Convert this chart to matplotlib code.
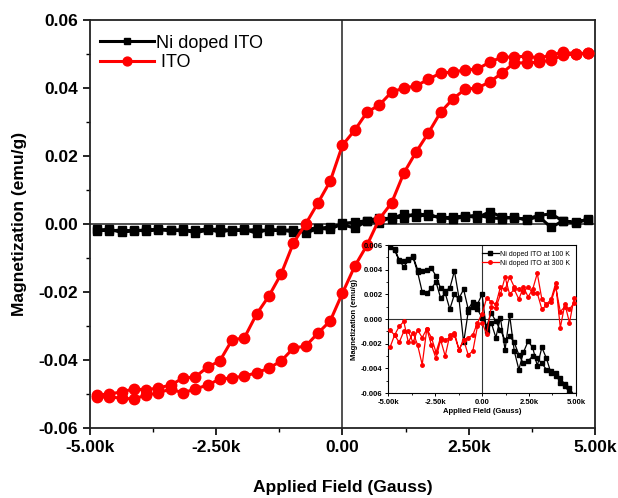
import matplotlib
matplotlib.use("Agg")
import matplotlib.pyplot as plt
from matplotlib.ticker import MultipleLocator

plt.rcParams['font.family'] = ['Liberation Sans', 'DejaVu Sans']

# ---------------- main plot data ----------------
field = [-4860, -4617, -4374, -4131, -3888, -3645, -3402, -3159, -2916, -2673,
         -2430, -2187, -1944, -1701, -1458, -1215, -972, -729, -486, -243,
         0, 243, 486, 729, 972, 1215, 1458, 1701, 1944, 2187,
         2430, 2673, 2916, 3159, 3402, 3645, 3888, 4131, 4374, 4617, 4860]

ito_desc = [-0.0503, -0.0500, -0.0494, -0.0485, -0.0488, -0.0482, -0.0474, -0.0453, -0.0450, -0.0421,
            -0.0403, -0.0341, -0.0335, -0.0265, -0.0212, -0.0147, -0.0056, 0.0000, 0.0062, 0.0126,
            0.0232, 0.0276, 0.0329, 0.0350, 0.0388, 0.0400, 0.0406, 0.0426, 0.0444, 0.0447,
            0.0453, 0.0456, 0.0476, 0.0491, 0.0491, 0.0494, 0.0488, 0.0497, 0.0506, 0.0500, 0.0503]
ito_asc = [-0.0509, -0.0509, -0.0512, -0.0515, -0.0503, -0.0497, -0.0485, -0.0497, -0.0485, -0.0474,
           -0.0456, -0.0453, -0.0447, -0.0438, -0.0424, -0.0403, -0.0365, -0.0359, -0.0321, -0.0285,
           -0.0203, -0.0124, -0.0062, 0.0015, 0.0062, 0.0150, 0.0212, 0.0268, 0.0329, 0.0368,
           0.0397, 0.0400, 0.0418, 0.0444, 0.0474, 0.0474, 0.0476, 0.0482, 0.0497, 0.0500, 0.0503]

ni_desc = [-0.0015, -0.0020, -0.0018, -0.0022, -0.0016, -0.0019, -0.0017, -0.0021, -0.0018, -0.0015,
           -0.0024, -0.0017, -0.0019, -0.0016, -0.0020, -0.0018, -0.0023, -0.0015, -0.0012, -0.0016,
           0.0002, 0.0005, 0.0010, 0.0018, 0.0015, 0.0030, 0.0022, 0.0028, 0.0018, 0.0020,
           0.0024, 0.0019, 0.0036, 0.0021, 0.0017, 0.0015, 0.0025, 0.0030, 0.0008, 0.0005, 0.0013]
ni_asc = [-0.0022, -0.0015, -0.0025, -0.0017, -0.0021, -0.0014, -0.0019, -0.0016, -0.0026, -0.0018,
          -0.0014, -0.0020, -0.0016, -0.0027, -0.0015, -0.0019, -0.0017, -0.0026, -0.0014, -0.0008,
          -0.0002, -0.0012, 0.0009, 0.0003, 0.0022, 0.0017, 0.0032, 0.0024, 0.0020, 0.0014,
          0.0022, 0.0026, 0.0018, 0.0016, 0.0020, 0.0012, 0.0022, -0.0010, 0.0010, 0.0002, 0.0016]

# ---------------- inset data ----------------
field_in = [-4900, -4655, -4410, -4165, -3920, -3675, -3430, -3185, -2940, -2695,
            -2450, -2205, -1960, -1715, -1470, -1225, -980, -735, -490, -245,
            0, 245, 490, 735, 980, 1225, 1470, 1715, 1960, 2205,
            2450, 2695, 2940, 3185, 3430, 3675, 3920, 4165, 4410, 4655, 4900]

k100_a = [0.0059, 0.0057, 0.0048, 0.0042, 0.0048, 0.0051, 0.0040, 0.0039, 0.0040, 0.0041,
          0.0035, 0.0025, 0.0023, 0.0025, 0.0039, 0.0017, 0.0024, 0.0008, 0.0014, 0.0012,
          0.0020, -0.0010, -0.0003, -0.0015, 0.0001, -0.0025, 0.0003, -0.0026, -0.0041, -0.0027,
          -0.0018, -0.0023, -0.0038, -0.0023, -0.0032, -0.0044, -0.0044, -0.0052, -0.0054, -0.0060, -0.0064]
k100_b = [0.0058, 0.0056, 0.0047, 0.0047, 0.0049, 0.0050, 0.0038, 0.0022, 0.0021, 0.0025,
          0.0030, 0.0017, 0.0021, 0.0008, 0.0020, 0.0016, -0.0019, 0.0006, 0.0010, 0.0008,
          0.0001, -0.0006, 0.0005, -0.0002, -0.0009, -0.0017, -0.0014, -0.0019, -0.0029, -0.0036,
          -0.0034, -0.0030, -0.0032, -0.0036, -0.0041, -0.0042, -0.0046, -0.0048, -0.0053, -0.0056, -0.0062]

k300_a = [-0.0009, -0.0013, -0.0006, -0.0002, -0.0019, -0.0011, -0.0021, -0.0037, -0.0008, -0.0021,
          -0.0032, -0.0017, -0.0030, -0.0013, -0.0011, -0.0025, -0.0017, -0.0029, -0.0026, -0.0006,
          -0.0003, -0.0012, 0.0010, 0.0009, 0.0020, 0.0034, 0.0020, 0.0024, 0.0016, 0.0026,
          0.0018, 0.0024, 0.0037, 0.0016, 0.0012, 0.0016, 0.0029, -0.0007, 0.0012, -0.0003, 0.0017]
k300_b = [-0.0023, -0.0013, -0.0019, -0.0010, -0.0010, -0.0019, -0.0009, -0.0015, -0.0008, -0.0015,
          -0.0027, -0.0015, -0.0017, -0.0015, -0.0013, -0.0025, -0.0017, -0.0015, -0.0013, -0.0003,
          0.0004, 0.0017, 0.0014, 0.0012, 0.0026, 0.0024, 0.0034, 0.0026, 0.0024, 0.0022,
          0.0026, 0.0021, 0.0021, 0.0008, 0.0011, 0.0014, 0.0026, 0.0006, 0.0010, 0.0008, 0.0013]

x_ticks = [-5000, -2500, 0, 2500, 5000]
x_ticklabels = ['-5.00k', '-2.50k', '0.00', '2.50k', '5.00k']
y_ticks = [-0.06, -0.04, -0.02, 0.0, 0.02, 0.04, 0.06]
y_ticklabels = ['-0.06', '-0.04', '-0.02', '0.00', '0.02', '0.04', '0.06']
yin_ticks = [-0.006, -0.004, -0.002, 0.0, 0.002, 0.004, 0.006]
yin_ticklabels = ['-0.006', '-0.004', '-0.002', '0.000', '0.002', '0.004', '0.006']

# ---------------- figure ----------------
fig = plt.figure(figsize=(6.18, 4.98), dpi=100)
ax = fig.add_axes([0.1456, 0.1406, 0.8172, 0.8192])

# reference lines
ax.axvline(0, color='#333333', lw=1.2, zorder=1)
ax.axhline(0, color='#333333', lw=1.2, zorder=1)

ni_x = list(reversed(field)) + field
ni_y = list(reversed(ni_desc)) + ni_asc
ito_x = list(reversed(field)) + field
ito_y = list(reversed(ito_desc)) + ito_asc

ax.plot(ni_x, ni_y, color='black', lw=2.2, marker='s', ms=5.5,
        label='Ni doped ITO', zorder=3)
ax.plot(ito_x, ito_y, color='#ff0000', lw=2.2, marker='o', ms=7.5,
        label=' ITO', zorder=4)

ax.set_xlim(-5000, 5000)
ax.set_ylim(-0.06, 0.06)
ax.set_xticks(x_ticks)
ax.set_xticklabels(x_ticklabels)
ax.set_yticks(y_ticks)
ax.set_yticklabels(y_ticklabels)
ax.xaxis.set_minor_locator(MultipleLocator(1250))
ax.yaxis.set_minor_locator(MultipleLocator(0.01))
ax.tick_params(which='major', direction='out', length=5, width=1.2, labelsize=12.5)
ax.tick_params(which='minor', direction='out', length=3, width=1.0)
for lbl in ax.get_xticklabels() + ax.get_yticklabels():
    lbl.set_fontweight('bold')
for sp in ax.spines.values():
    sp.set_linewidth(1.3)
    sp.set_color('#222222')

ax.set_xlabel('Applied Field (Gauss)', fontsize=12.5, fontweight='bold', labelpad=18)
ax.set_ylabel('Magnetization (emu/g)', fontsize=12.5, fontweight='bold', labelpad=8)

leg = ax.legend(loc='upper left', bbox_to_anchor=(-0.005, 0.995), frameon=False,
                fontsize=13, handlelength=3.0, handletextpad=0.1, labelspacing=0.15,
                borderaxespad=0.3, markerscale=0.85)

# ---------------- inset ----------------
axi = fig.add_axes([0.628, 0.2108, 0.304, 0.2972], zorder=5)
axi.set_facecolor('white')
axi.axvline(0, color='#333333', lw=0.8, zorder=1)
axi.axhline(0, color='#333333', lw=0.8, zorder=1)

in_x = field_in + list(reversed(field_in))
axi.plot(in_x, k100_a + list(reversed(k100_b)), color='black', lw=0.9,
         marker='s', ms=2.2, label='Ni doped ITO at 100 K', zorder=3)
axi.plot(in_x, k300_a + list(reversed(k300_b)), color='#ff0000', lw=0.9,
         marker='o', ms=2.5, label='Ni doped ITO at 300 K', zorder=3)

axi.set_xlim(-5000, 5000)
axi.set_ylim(-0.006, 0.006)
axi.set_xticks(x_ticks)
axi.set_xticklabels(x_ticklabels)
axi.set_yticks(yin_ticks)
axi.set_yticklabels(yin_ticklabels)
axi.xaxis.set_minor_locator(MultipleLocator(1250))
axi.yaxis.set_minor_locator(MultipleLocator(0.001))
axi.tick_params(which='major', direction='out', length=2.5, width=0.7, labelsize=5.5, pad=1.5)
axi.tick_params(which='minor', direction='out', length=1.5, width=0.6)
for lbl in axi.get_xticklabels() + axi.get_yticklabels():
    lbl.set_fontweight('bold')
for sp in axi.spines.values():
    sp.set_linewidth(0.8)
axi.set_xlabel('Applied Field (Gauss)', fontsize=5.5, fontweight='bold', labelpad=2)
axi.set_ylabel('Magnetization (emu/g)', fontsize=5.5, fontweight='bold', labelpad=2)
axi.legend(loc='upper right', frameon=False, fontsize=5, handlelength=2.5,
           handletextpad=0.2, labelspacing=0.3, borderaxespad=0.4)

fig.savefig('out.png', dpi=100)
